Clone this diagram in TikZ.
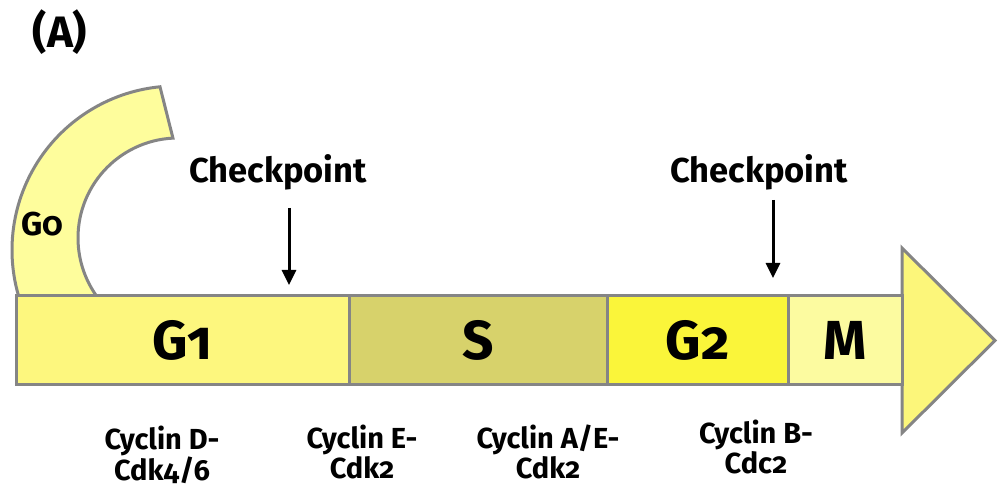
\documentclass[tikz,border=0pt]{standalone}
\usepackage{fontspec}
\setmainfont[Numbers=OldStyle]{Fira Sans}
\usetikzlibrary{arrows.meta,calc}
\definecolor{edge}{HTML}{858585}
\definecolor{gzero}{HTML}{FEFD9C}
\definecolor{gone}{HTML}{FDF77E}
\definecolor{sphase}{HTML}{D7D26B}
\definecolor{gtwo}{HTML}{FAF53A}
\definecolor{mphase}{HTML}{FCFBA0}
\definecolor{headfill}{HTML}{FCF67A}
\tikzset{
  cell/.style={draw=edge, line width=3pt, minimum height=89pt, inner sep=0pt,
    font=\bfseries\fontsize{55}{55}\selectfont},
  lbl/.style={font=\bfseries\fontsize{34.5}{36}\selectfont, inner sep=0pt},
  cyc/.style={font=\bfseries\fontsize{29}{30}\selectfont, align=center, inner sep=0pt},
  ptr/.style={line width=3pt, -{Triangle[width=14pt,length=15pt]}}
}
\begin{document}
\begin{tikzpicture}[x=1pt,y=1pt]
\useasboundingbox (0,0) rectangle (1001,500);
% G0 side loop, its foot hidden under the bar
\draw[draw=edge, fill=gzero, line width=3pt]
  ($(176,250)+(200:164)$) arc[start angle=200, end angle=95.6, radius=164]
  -- ($(178,262)+(92.9:100)$) arc[start angle=92.9, end angle=222, radius=100]
  -- cycle;
\node[lbl, font=\bfseries\fontsize{33}{33}\selectfont] (g0) at (42,276) {G0};
% arrow head of the cycle bar
\node[draw=none, inner sep=0pt] (headtip) at (995,159.5) {};
\draw[draw=edge, fill=headfill, line width=3pt, line join=miter]
  (902,67) -- (headtip.center) -- (902,252) -- cycle;
% phases
\node[cell, fill=gone,   minimum width=333pt] (g1) at (182.5,159.5) {G1};
\node[cell, fill=sphase, minimum width=258pt] (s)  at (478,159.5) {S};
\node[cell, fill=gtwo,   minimum width=181pt] (g2) at (697.5,159.5) {G2};
\node[cell, fill=mphase, minimum width=114pt] (m)  at (845,159.5) {M};
% checkpoints
\node[lbl] (cp1) at (278,328) {Checkpoint};
\node[lbl] (cp2) at (759,328) {Checkpoint};
\coordinate (cp1a) at (289,292);
\coordinate (cp1b) at (289,215);
\coordinate (cp2a) at (773,300);
\coordinate (cp2b) at (773,222);
\draw[ptr] (cp1a) -- (cp1b);
\draw[ptr] (cp2a) -- (cp2b);
% cyclin--CDK complexes
\node[cyc] (cd) at (162,45) {Cyclin D-\\Cdk4/6};
\node[cyc] (ce) at (362,48) {Cyclin E-\\Cdk2};
\node[cyc] (ca) at (548,48) {Cyclin A/E-\\Cdk2};
\node[cyc] (cb) at (756,53) {Cyclin B-\\Cdc2};
% panel letter
\node[lbl, font=\bfseries\fontsize{44}{44}\selectfont] (panel) at (60,468) {(A)};
\end{tikzpicture}
\end{document}
